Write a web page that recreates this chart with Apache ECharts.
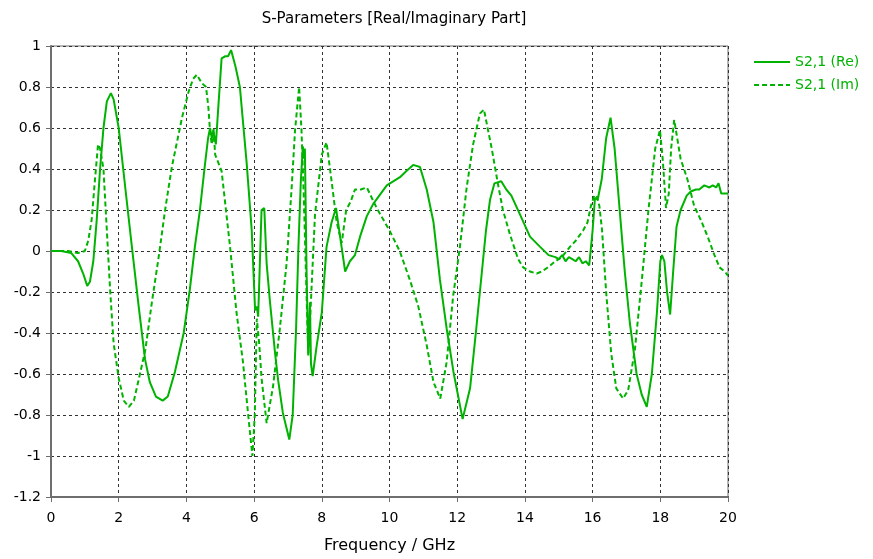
<!DOCTYPE html>
<html>
<head>
<meta charset="utf-8">
<script src="https://cdn.jsdelivr.net/npm/echarts@6/dist/echarts.min.js"></script>
<style>html,body{margin:0;padding:0;background:#fff;}#c{width:873px;height:559px;}</style>
</head>
<body>
<div id="c"></div>
<script>
const titleText = 'S-Parameters [Real/Imaginary Part]';
const xAxisName = 'Frequency / GHz';
const seriesNames = ['S2,1 (Re)', 'S2,1 (Im)'];

const reFreq = [0,0.3,0.6,0.8,0.95,1.07,1.15,1.25,1.35,1.45,1.55,1.65,1.77,1.85,2.0,2.2,2.39,2.59,2.78,2.92,3.1,3.3,3.45,3.66,3.92,4.1,4.25,4.4,4.54,4.64,4.7,4.75,4.8,4.87,4.95,5.04,5.15,5.23,5.32,5.45,5.58,5.78,5.93,6.03,6.08,6.12,6.22,6.3,6.37,6.47,6.62,6.71,6.85,7.04,7.14,7.24,7.31,7.38,7.44,7.47,7.5,7.55,7.6,7.65,7.68,7.73,7.85,8.0,8.14,8.29,8.42,8.54,8.69,8.83,8.98,9.13,9.33,9.52,9.92,10.31,10.5,10.7,10.9,11.1,11.3,11.49,11.69,11.89,12.16,12.38,12.55,12.7,12.85,12.97,13.1,13.3,13.45,13.6,13.85,14.15,14.45,14.7,14.9,15.0,15.1,15.2,15.3,15.4,15.5,15.6,15.7,15.8,15.9,16.0,16.07,16.15,16.27,16.4,16.53,16.65,16.8,16.95,17.1,17.3,17.45,17.6,17.75,17.9,18.0,18.05,18.12,18.2,18.29,18.38,18.48,18.6,18.78,18.9,19.05,19.15,19.3,19.45,19.55,19.65,19.72,19.8,20];
const reVal = [0,0,-0.01,-0.05,-0.11,-0.17,-0.15,-0.05,0.15,0.4,0.6,0.73,0.77,0.74,0.6,0.3,0.02,-0.27,-0.53,-0.64,-0.71,-0.73,-0.71,-0.59,-0.4,-0.19,0.02,0.2,0.41,0.55,0.6,0.55,0.58,0.52,0.72,0.94,0.95,0.95,0.98,0.9,0.8,0.43,0.1,-0.29,-0.27,-0.32,0.2,0.21,-0.06,-0.25,-0.5,-0.63,-0.79,-0.92,-0.8,-0.38,0.02,0.34,0.51,0.45,0.5,-0.1,-0.51,-0.25,-0.55,-0.61,-0.46,-0.3,0.02,0.14,0.21,0.07,-0.1,-0.05,-0.02,0.07,0.17,0.23,0.32,0.36,0.39,0.42,0.41,0.3,0.14,-0.14,-0.38,-0.59,-0.82,-0.67,-0.4,-0.15,0.1,0.25,0.33,0.34,0.3,0.27,0.18,0.07,0.02,-0.02,-0.03,-0.04,-0.02,-0.05,-0.03,-0.04,-0.05,-0.03,-0.06,-0.05,-0.07,0.1,0.26,0.25,0.35,0.55,0.65,0.5,0.2,-0.1,-0.35,-0.6,-0.7,-0.76,-0.6,-0.3,-0.05,-0.02,-0.05,-0.2,-0.31,-0.1,0.12,0.2,0.27,0.29,0.3,0.3,0.32,0.31,0.32,0.31,0.33,0.28,0.28];

const imFreq = [0,0.5,0.8,1.0,1.1,1.2,1.3,1.39,1.45,1.55,1.65,1.75,1.85,2.0,2.15,2.3,2.45,2.6,2.79,2.98,3.18,3.38,3.57,3.87,4.07,4.2,4.31,4.45,4.58,4.65,4.7,4.75,4.8,4.85,5.04,5.29,5.48,5.67,5.82,5.95,6.02,6.08,6.15,6.22,6.37,6.56,6.76,6.96,7.11,7.21,7.33,7.4,7.47,7.55,7.6,7.65,7.72,7.8,8.0,8.14,8.29,8.44,8.59,8.72,8.85,8.98,9.15,9.33,9.62,10.0,10.3,10.6,10.85,11.1,11.3,11.5,11.69,11.88,12.08,12.28,12.47,12.67,12.79,13.02,13.2,13.35,13.56,13.8,13.95,14.15,14.35,14.5,14.68,14.9,15.09,15.33,15.5,15.72,15.85,15.95,16.05,16.12,16.2,16.28,16.4,16.55,16.7,16.9,17.05,17.25,17.45,17.65,17.85,17.99,18.07,18.17,18.25,18.32,18.41,18.5,18.6,18.8,19.0,19.2,19.4,19.6,19.75,19.9,20.0];
const imVal = [0,0,-0.01,0,0.05,0.15,0.35,0.52,0.5,0.4,0.1,-0.2,-0.45,-0.62,-0.73,-0.76,-0.73,-0.62,-0.48,-0.25,-0.03,0.21,0.41,0.65,0.78,0.84,0.86,0.82,0.8,0.7,0.58,0.52,0.6,0.47,0.39,0.02,-0.3,-0.54,-0.79,-1.0,-0.8,-0.33,-0.45,-0.62,-0.84,-0.66,-0.38,-0.06,0.31,0.59,0.8,0.59,0.26,-0.22,-0.5,-0.35,-0.1,0.18,0.47,0.53,0.34,0.14,0.04,0.2,0.24,0.3,0.3,0.31,0.21,0.1,0,-0.14,-0.27,-0.46,-0.64,-0.72,-0.54,-0.22,0.02,0.31,0.52,0.67,0.69,0.5,0.33,0.2,0.08,-0.04,-0.08,-0.1,-0.11,-0.1,-0.08,-0.05,-0.03,0.02,0.05,0.1,0.14,0.22,0.27,0.27,0.22,0.1,-0.2,-0.5,-0.67,-0.72,-0.68,-0.48,-0.15,0.2,0.5,0.59,0.45,0.21,0.28,0.5,0.64,0.55,0.45,0.35,0.22,0.15,0.07,-0.02,-0.08,-0.1,-0.12];

const GREEN = '#00b300';
const FONT = 'DejaVu Sans';
const pair = (xs, ys) => xs.map((x, i) => [x, ys[i]]);

const chart = echarts.init(document.getElementById('c'), null, {renderer: 'canvas'});
chart.setOption({
  animation: false,
  backgroundColor: '#ffffff',
  title: {
    text: titleText, left: 389, top: 7, textAlign: 'center',
    textStyle: {fontFamily: FONT, fontSize: 15, fontWeight: 'normal', color: '#000'}
  },
  legend: {
    orient: 'vertical', left: 748, top: 50, itemWidth: 36, itemHeight: 10, itemGap: 9,
    data: seriesNames, itemStyle: {opacity: 0},
    textStyle: {fontFamily: FONT, fontSize: 14, color: GREEN}
  },
  grid: {left: 51, right: 145, top: 46, bottom: 58, show: true, borderColor: '#6e6e6e', borderWidth: 1},
  xAxis: {
    type: 'value', min: 0, max: 20, interval: 2,
    name: xAxisName, nameLocation: 'middle', nameGap: 41,
    nameTextStyle: {fontFamily: FONT, fontSize: 16, color: '#000'},
    axisLine: {show: true, onZero: false, lineStyle: {color: '#6e6e6e', width: 2}},
    axisTick: {show: true, inside: false, length: 5, lineStyle: {color: '#6e6e6e'}},
    axisLabel: {fontFamily: FONT, fontSize: 14, color: '#000', margin: 14},
    splitLine: {show: true, lineStyle: {color: '#333', type: [3, 3], width: 1}}
  },
  yAxis: {
    type: 'value', min: -1.2, max: 1, interval: 0.2,
    axisLine: {show: true, onZero: false, lineStyle: {color: '#6e6e6e', width: 2}},
    axisTick: {show: true, inside: false, length: 5, lineStyle: {color: '#6e6e6e'}},
    axisLabel: {fontFamily: FONT, fontSize: 14, color: '#000', margin: 10,
      formatter: v => String(Math.round(v * 10) / 10)},
    splitLine: {show: true, lineStyle: {color: '#333', type: [3, 3], width: 1}}
  },
  series: [
    {name: seriesNames[0], type: 'line', data: pair(reFreq, reVal), showSymbol: false, symbol: 'none',
      lineStyle: {color: GREEN, width: 2}, itemStyle: {color: GREEN}},
    {name: seriesNames[1], type: 'line', data: pair(imFreq, imVal), showSymbol: false, symbol: 'none',
      lineStyle: {color: GREEN, width: 2, type: [5, 3]}, itemStyle: {color: GREEN}}
  ]
});
</script>
</body>
</html>
